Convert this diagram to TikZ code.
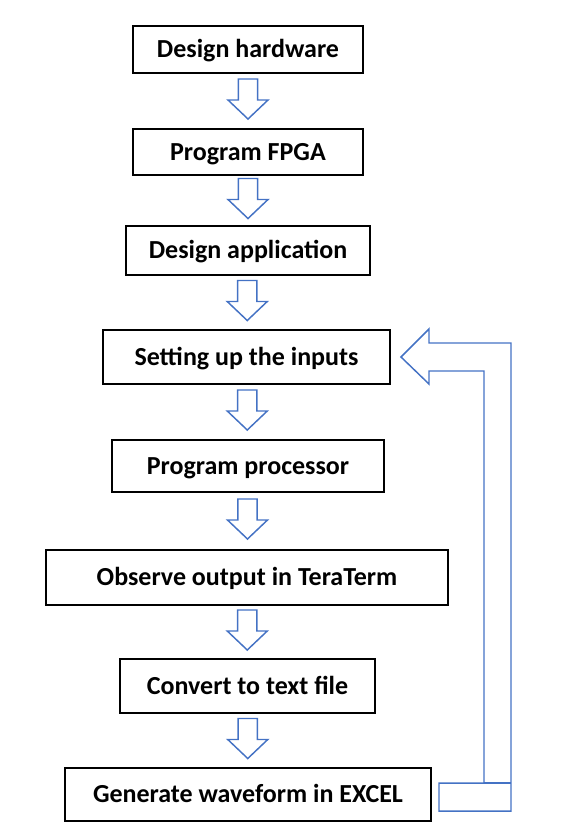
\documentclass[tikz,border=0pt]{standalone}
\usepackage{fontspec}
\setmainfont{Carlito}
\usepackage{xcolor}
\usepackage{tikz}
\usetikzlibrary{calc}
\definecolor{flowblue}{RGB}{68,114,196}

\tikzset{
  stepbox/.style={draw=black, line width=1.5pt, fill=white, inner sep=0pt,
    font=\bfseries\fontsize{19.5}{23}\selectfont, text height=12.6pt, text depth=0pt},
  blockarrow/.style={draw=flowblue, line width=1.1pt, line join=miter}
}
% hollow arrow between two boxes
\newcommand\flowarrow[2]{%
  \path ($(#1.south)!0.5!(#2.north)$) coordinate (m);
  \draw[blockarrow] ([shift={(-9.7,-22)}]m) -- ++(19.4,0) -- ++(0,21) -- ++(10.3,0)
    -- ++(-20,19) -- ++(-20,-19) -- ++(10.3,0) -- cycle;
}

\begin{document}
\begin{tikzpicture}[x=0.75pt, y=-0.75pt]
  \useasboundingbox (0,0) rectangle (564,839);
  \node[stepbox, minimum width=172.5pt, minimum height=35.25pt] (hw) at (248,49.5) {Design hardware};
  \node[stepbox, minimum width=172.5pt, minimum height=34.5pt] (fpga) at (248,152) {Program FPGA};
  \node[stepbox, minimum width=183pt, minimum height=36.75pt] (app) at (248,250.5) {Design application};
  \node[stepbox, minimum width=215.25pt, minimum height=40.5pt] (in) at (246.5,357) {Setting up the inputs};
  \node[stepbox, minimum width=204pt, minimum height=39pt] (proc) at (248,466) {Program processor};
  \node[stepbox, minimum width=301.5pt, minimum height=41.25pt] (obs) at (247,577.5) {Observe output in TeraTerm};
  \node[stepbox, minimum width=191.25pt, minimum height=40.5pt] (txt) at (247.5,686) {Convert to text file};
  \node[stepbox, minimum width=274.5pt, minimum height=39.75pt] (excel) at (248,794.5) {Generate waveform in EXCEL};

  \foreach \a/\b in {hw/fpga, fpga/app, app/in, in/proc, proc/obs, obs/txt, txt/excel}
    \flowarrow{\a}{\b};

  % return arrow back to the inputs
  \coordinate (tip) at ([xshift=7.5pt]in.east);
  \coordinate (base) at ([xshift=5.25pt,yshift=-12.4pt]excel.east);
  \draw[blockarrow] (tip) -- ++(28,-28) -- ++(0,14) -- ++(82,0) coordinate (oc)
    -- (oc |- base) -- (base) -- ++(0,-28) -- ++(45,0) coordinate (ic)
    -- ($(tip)+(83,14)$) -- ++(-55,0) -- ++(0,13) -- cycle;
  \draw[blockarrow] (ic) -- (oc |- ic);
\end{tikzpicture}
\end{document}
